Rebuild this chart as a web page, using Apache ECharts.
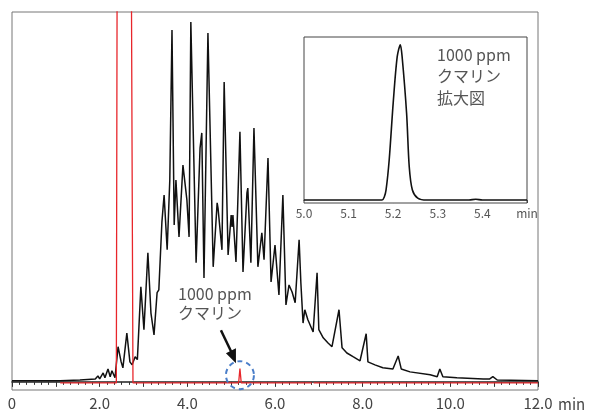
<!DOCTYPE html>
<html lang="ja">
<head>
  <meta charset="UTF-8">
  <title>クマリン クロマトグラム</title>
  <script src="https://cdn.jsdelivr.net/npm/echarts@6/dist/echarts.min.js"></script>
  <style>
    html, body { margin: 0; padding: 0; background: #fff; }
  </style>
</head>
<body>
  <div id="main" style="width:590px;height:415px;"></div>
  <script>
    // 試料（黒）: [min, 強度]
    var sampleTrace = [
      [0, 0.3], [1.1, 0.3], [1.55, 0.5], [1.9, 0.8], [1.96, 1.6], [2.0, 0.8], [2.08, 2.4],
      [2.12, 1.1], [2.19, 3.5], [2.24, 1.4], [2.28, 3.0], [2.35, 1.1], [2.42, 9.5],
      [2.49, 5.4], [2.53, 3.8], [2.62, 13.2], [2.69, 5.4], [2.74, 4.6], [2.81, 6.8],
      [2.86, 6.0], [2.94, 25.7], [3.01, 14.1], [3.10, 34.9], [3.17, 18.6], [3.24, 12.7],
      [3.31, 24.1], [3.35, 24.9], [3.42, 43.2], [3.47, 50.5], [3.54, 35.7], [3.60, 54.6],
      [3.65, 95.1], [3.70, 42.4], [3.74, 54.6], [3.81, 39.2], [3.90, 58.6], [3.99, 49.2],
      [4.04, 39.2], [4.08, 97.3], [4.20, 32.2], [4.29, 63.2], [4.33, 67.3], [4.38, 28.1],
      [4.47, 94.3], [4.59, 31.1], [4.68, 48.4], [4.70, 47.0], [4.79, 35.7], [4.84, 81.1],
      [4.93, 34.3], [5.00, 45.1], [5.02, 41.9], [5.04, 45.1], [5.11, 32.4], [5.20, 67.6],
      [5.27, 29.7], [5.36, 51.1], [5.38, 52.4], [5.45, 32.2], [5.52, 68.6], [5.61, 31.1],
      [5.70, 40.3], [5.75, 33.0], [5.84, 60.5], [5.91, 27.0], [6.00, 37.0], [6.09, 23.5],
      [6.18, 50.5], [6.25, 20.8], [6.32, 26.2], [6.39, 24.3], [6.46, 21.4], [6.55, 38.4],
      [6.59, 26.8], [6.64, 15.9], [6.68, 19.5], [6.75, 16.8], [6.87, 13.5], [6.96, 29.5],
      [7.00, 14.1], [7.10, 11.9], [7.21, 10.5], [7.30, 9.5], [7.46, 19.5], [7.53, 9.2],
      [7.64, 7.8], [7.78, 6.8], [7.94, 5.7], [8.08, 13.0], [8.12, 5.4], [8.28, 4.6],
      [8.46, 3.8], [8.69, 3.5], [8.81, 7.0], [8.88, 3.5], [9.08, 2.7], [9.54, 1.9],
      [9.70, 1.4], [9.76, 3.5], [9.83, 1.4], [10.15, 1.1], [10.75, 0.8], [10.9, 0.8],
      [10.97, 1.4], [11.07, 0.5], [12.0, 0.3]
    ];

    // 1000 ppm クマリン（赤）
    var coumarinTrace = [
      [1.1, -0.3], [2.38, -0.3], [2.40, 120], [2.72, 120], [2.76, -0.3],
      [5.17, -0.3], [5.20, 3.6], [5.23, -0.3], [6.84, -0.3], null,
      [6.88, -0.3], [12.0, -0.3]
    ];

    // 拡大図 (5.0 - 5.5 min)
    var insetTrace = [
      [5.0, 0], [5.175, 0], [5.18, 2.0], [5.184, 6.5], [5.191, 25.8], [5.200, 62.6],
      [5.209, 92.3], [5.216, 100], [5.220, 92.3], [5.230, 56.1], [5.236, 21.3],
      [5.243, 6.5], [5.255, 1.3], [5.275, 0], [5.37, 0], [5.385, 0.5], [5.40, 0], [5.5, 0]
    ];

    var mainTicks = { min: 0, max: 12, step: 1 };
    var insetTicks = { min: 5.0, max: 5.5, step: 0.1 };
    var peakMark = [5.2, 1.0];

    var chart = echarts.init(document.getElementById('main'));
    var labelFont = '"Noto Sans CJK JP", "Noto Sans", sans-serif';

    var option = {
      animation: false,
      grid: [
        { left: 12, right: 52, top: 12, bottom: 25, show: true, borderColor: '#777', borderWidth: 1, backgroundColor: 'transparent' },
        { left: 304, right: 63, top: 37, bottom: 212, show: true, borderColor: '#444', borderWidth: 1, backgroundColor: '#fff', z: 5 }
      ],
      xAxis: [
        {
          type: 'value', gridIndex: 0,
          min: mainTicks.min, max: mainTicks.max, interval: mainTicks.step,
          axisLine: { lineStyle: { color: '#222', width: 1.5 } },
          axisTick: { show: true, inside: false, length: 5, lineStyle: { color: '#333' } },
          minorTick: { show: true, splitNumber: 6, length: 3, lineStyle: { color: '#333' } },
          splitLine: { show: false },
          axisLabel: {
            margin: 6, fontSize: 15, color: '#444', fontFamily: labelFont,
            formatter: function (v) {
              if (Math.round(v) % 2 !== 0) return '';
              return v === 0 ? '0' : v.toFixed(1);
            }
          }
        },
        {
          type: 'value', gridIndex: 1,
          min: insetTicks.min, max: insetTicks.max, interval: insetTicks.step,
          axisLine: { lineStyle: { color: '#222', width: 1.2 } },
          axisTick: { show: true, length: 3, lineStyle: { color: '#444' } },
          minorTick: { show: true, splitNumber: 10, length: 2, lineStyle: { color: '#666' } },
          splitLine: { show: false },
          axisLabel: {
            margin: 4, fontSize: 12, color: '#555', fontFamily: labelFont,
            formatter: function (v) {
              return v >= 5.45 ? 'min' : v.toFixed(1);
            }
          }
        }
      ],
      yAxis: [
        { type: 'value', gridIndex: 0, min: -2.2, max: 100, show: false, splitLine: { show: false } },
        { type: 'value', gridIndex: 1, min: -1.9, max: 105, show: false, splitLine: { show: false } }
      ],
      series: [
        {
          name: '試料', type: 'line', xAxisIndex: 0, yAxisIndex: 0,
          data: sampleTrace, showSymbol: false,
          lineStyle: { color: '#111', width: 1.5 }, z: 2
        },
        {
          name: '1000 ppm クマリン', type: 'line', xAxisIndex: 0, yAxisIndex: 0,
          data: coumarinTrace, showSymbol: false, connectNulls: false,
          lineStyle: { color: '#e8262b', width: 1.3 }, z: 3
        },
        {
          name: '拡大図', type: 'line', xAxisIndex: 1, yAxisIndex: 1,
          data: insetTrace, showSymbol: false, smooth: 0.3,
          lineStyle: { color: '#111', width: 1.6 }, z: 6
        }
      ]
    };
    chart.setOption(option);

    // 注記（円・矢印・テキスト）
    var c = chart.convertToPixel({ xAxisIndex: 0, yAxisIndex: 0 }, peakMark);
    var cx = c[0], cy = c[1] - 3;
    var textStyleMain = { fill: '#555', fontSize: 16, fontFamily: labelFont };
    chart.setOption({
      graphic: [
        {
          type: 'circle', shape: { cx: cx, cy: cy, r: 14 }, z: 10,
          style: { fill: 'none', stroke: '#4a7ec9', lineWidth: 2, lineDash: [5, 4] }
        },
        {
          type: 'line', z: 10,
          shape: { x1: cx - 19, y1: cy - 45, x2: cx - 8, y2: cy - 22 },
          style: { stroke: '#111', lineWidth: 2.5 }
        },
        {
          type: 'polygon', z: 10,
          shape: { points: [[cx - 4, cy - 12], [cx - 14, cy - 22], [cx - 4, cy - 27]] },
          style: { fill: '#111' }
        },
        { type: 'text', x: 178, y: 286, z: 10, style: Object.assign({ text: '1000 ppm' }, textStyleMain) },
        { type: 'text', x: 178, y: 305, z: 10, style: Object.assign({ text: 'クマリン' }, textStyleMain) },
        { type: 'text', x: 437, y: 47, z: 10, style: Object.assign({ text: '1000 ppm' }, textStyleMain) },
        { type: 'text', x: 437, y: 68, z: 10, style: Object.assign({ text: 'クマリン' }, textStyleMain) },
        { type: 'text', x: 437, y: 90, z: 10, style: Object.assign({ text: '拡大図' }, textStyleMain) },
        { type: 'text', x: 558, y: 397, z: 10, style: { text: 'min', fill: '#444', fontSize: 15, fontFamily: labelFont } }
      ]
    });
  </script>
</body>
</html>
